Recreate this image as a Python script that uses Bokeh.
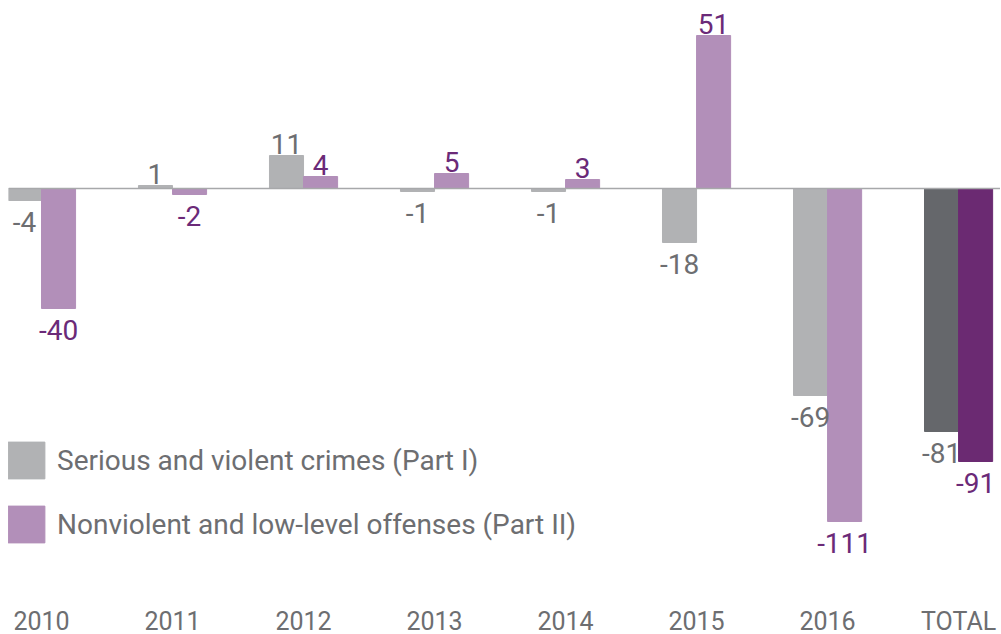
from bokeh.plotting import figure
from bokeh.models import ColumnDataSource, FixedTicker, Range1d, Legend, LegendItem, Span
from bokeh.core.properties import value
from bokeh.embed import file_html
from bokeh.resources import INLINE

categories = ["2010", "2011", "2012", "2013", "2014", "2015", "2016", "TOTAL"]
part1 = [-4, 1, 11, -1, -1, -18, -69, -81]
part2 = [-40, -2, 4, 5, 3, 51, -111, -91]
series_names = ["Serious and violent crimes (Part I)", "Nonviolent and low-level offenses (Part II)"]

FONT = "Roboto"
GRAY_LIGHT, GRAY_DARK = "#b1b2b4", "#65676b"
PURP_LIGHT, PURP_DARK = "#b28fb9", "#6b2a72"
GRAY_TEXT, PURP_TEXT = "#6d6e71", "#6b2a78"
W = 0.26

p = figure(frame_width=992, frame_height=590, output_backend="svg", toolbar_location=None,
           x_range=Range1d(-0.252, 7.32), y_range=Range1d(-134, 62.67),
           min_border=0, min_border_left=8, min_border_right=0, min_border_top=0)
p.outline_line_color = None
p.xgrid.visible = False
p.ygrid.visible = False
p.yaxis.visible = False
p.background_fill_color = "white"
p.border_fill_color = "white"

idx = list(range(len(categories)))
n_years = len(categories) - 1

def make_src(vals, offset, sl, color):
    xs = [i + offset for i in idx[sl]]
    v = vals[sl]
    return ColumnDataSource(dict(x=xs, top=v, color=[color] * len(v)))

s1 = make_src(part1, -W / 2, slice(0, n_years), GRAY_LIGHT)
s1t = make_src(part1, -W / 2, slice(n_years, None), GRAY_DARK)
s2 = make_src(part2, W / 2, slice(0, n_years), PURP_LIGHT)
s2t = make_src(part2, W / 2, slice(n_years, None), PURP_DARK)

r1 = p.vbar(x="x", top="top", bottom=0, width=W, color="color", source=s1)
p.vbar(x="x", top="top", bottom=0, width=W, color="color", source=s1t)
r2 = p.vbar(x="x", top="top", bottom=0, width=W, color="color", source=s2)
p.vbar(x="x", top="top", bottom=0, width=W, color="color", source=s2t)

p.add_layout(Span(location=0, dimension="width", line_color="#a7a8aa", line_width=1.5))

def add_labels(vals, offset, color):
    pos_x = [i + offset for i, v in zip(idx, vals) if v >= 0]
    pos_y = [v for v in vals if v >= 0]
    neg_x = [i + offset for i, v in zip(idx, vals) if v < 0]
    neg_y = [v for v in vals if v < 0]
    p.text(x=pos_x, y=pos_y, text=[str(v) for v in pos_y], text_align="center",
           text_baseline="bottom", y_offset=-2, text_font=value(FONT),
           text_font_size="28px", text_color=color)
    p.text(x=neg_x, y=neg_y, text=[str(v) for v in neg_y], text_align="center",
           text_baseline="top", y_offset=11, text_font=value(FONT),
           text_font_size="28px", text_color=color)

add_labels(part1, -W / 2, GRAY_TEXT)
add_labels(part2, W / 2, PURP_TEXT)

p.xaxis.ticker = FixedTicker(ticks=idx)
p.xaxis.major_label_overrides = {i: c for i, c in zip(idx, categories)}
p.xaxis.axis_line_color = None
p.xaxis.major_tick_line_color = None
p.xaxis.minor_tick_line_color = None
p.xaxis.major_label_standoff = 10
p.xaxis.major_label_text_font = FONT
p.xaxis.major_label_text_font_size = "25px"
p.xaxis.major_label_text_color = GRAY_TEXT

legend = Legend(items=[LegendItem(label=series_names[0], renderers=[r1]),
                       LegendItem(label=series_names[1], renderers=[r2])],
                location=(-5, 43), orientation="vertical",
                glyph_width=46, glyph_height=46, label_height=46,
                label_standoff=8, spacing=18, padding=0, margin=0,
                label_text_font=FONT, label_text_font_size="28px",
                label_text_color=GRAY_TEXT, border_line_color=None,
                background_fill_alpha=0)
p.add_layout(legend, "center")

open("out.html", "w").write(file_html(p, INLINE))
